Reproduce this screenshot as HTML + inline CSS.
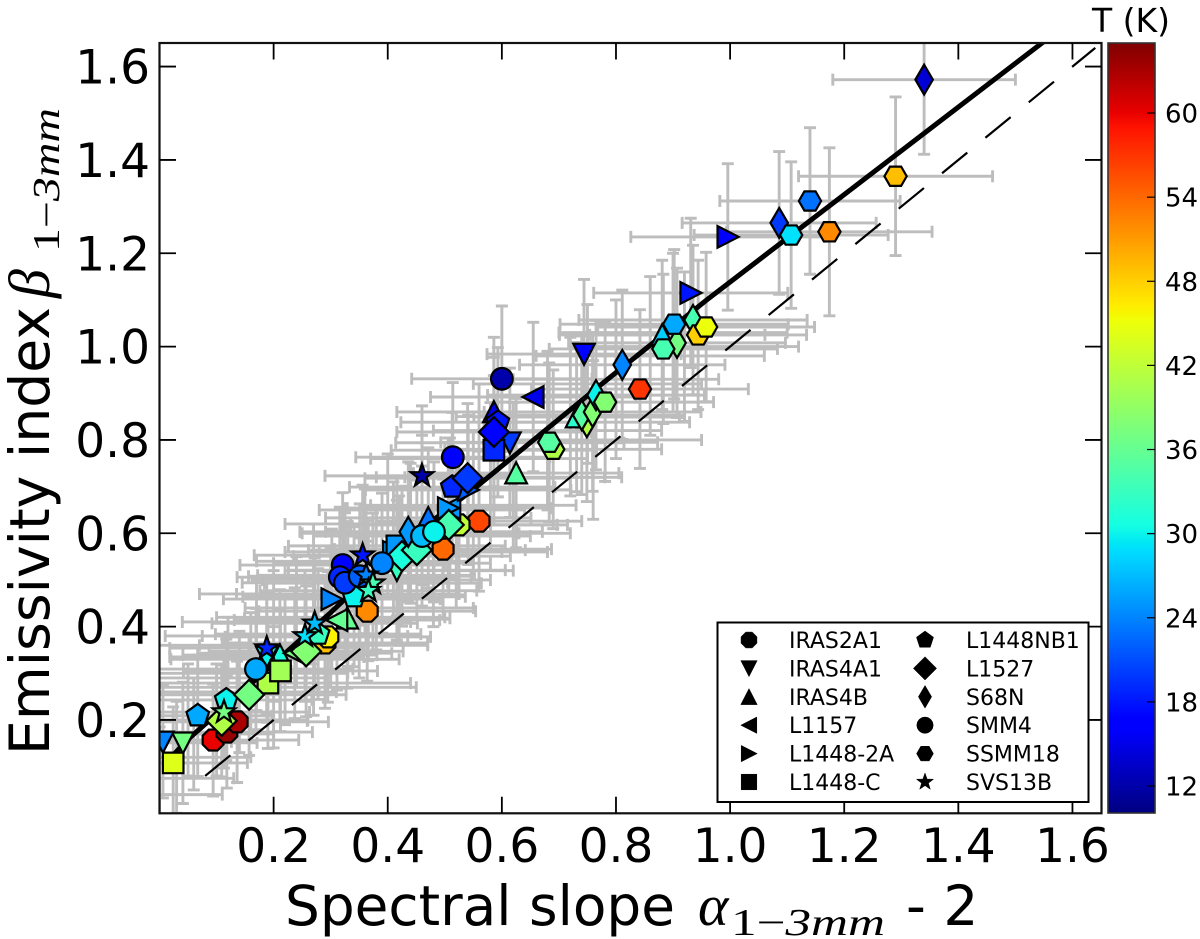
<!DOCTYPE html>
<html>
<head>
<meta charset="utf-8">
<title>Emissivity index vs spectral slope</title>
<style>
html,body{margin:0;padding:0;background:#fff;}
svg{display:block;}
text{font-family:"DejaVu Sans","Liberation Sans",sans-serif;fill:#000;}
.math{font-family:"Liberation Serif","DejaVu Serif",serif;font-style:italic;}
.up{font-style:normal;}
</style>
</head>
<body>
<svg id="chart" xmlns="http://www.w3.org/2000/svg" width="1200" height="939" viewBox="0 0 1200 939">
<defs><clipPath id="plot-clip"><rect x="159.5" y="43" width="942" height="770.3"/></clipPath></defs>
<g id="errors" clip-path="url(#plot-clip)"></g>
<g id="lines" clip-path="url(#plot-clip)"></g>
<g id="points" clip-path="url(#plot-clip)"></g>
<g id="axes"></g>
<g id="legend"></g>
<g id="colorbar"></g>
<text x="285" y="925" font-size="55" textLength="390" lengthAdjust="spacingAndGlyphs">Spectral slope</text>
<text class="math" x="698" y="925" font-size="58">α</text>
<text class="math" x="731" y="935" font-size="38" textLength="154" lengthAdjust="spacingAndGlyphs"><tspan class="up">1−</tspan>3mm</text>
<text x="906" y="925" font-size="55">- 2</text>
<text transform="rotate(-90 49 755)" x="49" y="755" font-size="55" textLength="448" lengthAdjust="spacingAndGlyphs">Emissivity index</text>
<text class="math" transform="rotate(-90 49 298)" x="49" y="298" font-size="58">β</text>
<text class="math" transform="rotate(-90 59 252)" x="59" y="252" font-size="38" textLength="144" lengthAdjust="spacingAndGlyphs"><tspan class="up">1−</tspan>3mm</text>
<text x="1092" y="32" font-size="33">T (K)</text>
</svg>
<script>
// Tick labels
const xTicks = [0.2, 0.4, 0.6, 0.8, 1.0, 1.2, 1.4, 1.6];
const yTicks = [0.2, 0.4, 0.6, 0.8, 1.0, 1.2, 1.4, 1.6];
const tempTicks = [12, 18, 24, 30, 36, 42, 48, 54, 60];

// Fitted curve and one-to-one reference
const fitAlpha = [0.02, 0.054, 0.134, 0.3, 0.434, 0.556, 0.766, 0.959, 1.546, 1.58];
const fitBeta = [0.12, 0.163, 0.249, 0.43, 0.585, 0.70, 0.911, 1.10, 1.65, 1.68];
const refAlpha = [0.08, 1.64];
const refBeta = [0.08, 1.64];

// Rows: alpha, beta, temperature, alpha error, beta error
const iras2a1 = [[0.094,0.157,60,0.15,0.12],[0.118,0.174,64,0.15,0.12],[0.136,0.196,63,0.16,0.13],[0.364,0.433,52,0.19,0.15],[0.290,0.365,49,0.18,0.14],[0.295,0.378,46,0.18,0.14],[0.497,0.566,54,0.19,0.15],[0.56,0.626,56,0.18,0.15],[0.525,0.618,42,0.19,0.15]];
const iras4a1 = [[0.744,0.984,17,0.17,0.16],[0.614,0.794,20,0.2,0.16],[0.041,0.151,37,0.13,0.13],[0.188,0.335,30,0.17,0.14],[0.416,0.521,33,0.19,0.15],[0.006,0.153,24,0.12,0.12]];
const iras4b = [[0.625,0.729,35,0.18,0.16],[0.881,1.025,28,0.18,0.16],[0.731,0.849,32,0.18,0.16],[0.586,0.860,15,0.17,0.16],[0.471,0.633,23,0.18,0.15],[0.211,0.339,31,0.17,0.14],[0.329,0.418,36,0.18,0.15]];
const l1157 = [[0.655,0.892,15,0.18,0.16],[0.237,0.343,37,0.17,0.14],[0.311,0.414,36,0.18,0.15],[0.509,0.654,25,0.18,0.15]];
const l14482a = [[0.996,1.235,16,0.17,0.157],[0.931,1.115,18,0.17,0.16],[0.541,0.693,22,0.18,0.16],[0.302,0.459,24,0.19,0.15],[0.506,0.654,25,0.18,0.15],[0.41,0.56,26,0.19,0.15]];
const l1448c = [[0.024,0.108,44,0.13,0.12],[0.19,0.279,41,0.25,0.14],[0.212,0.305,40,0.17,0.13],[0.586,0.778,19,0.18,0.16],[0.416,0.573,25,0.19,0.15]];
const l1448nb1 = [[0.067,0.209,26,0.13,0.13],[0.117,0.243,30,0.15,0.13],[0.341,0.464,30,0.195,0.15],[0.513,0.699,19,0.18,0.16],[0.593,0.838,18,0.17,0.16],[0.278,0.384,33,0.18,0.14]];
const l1527 = [[0.157,0.254,37,0.17,0.13],[0.109,0.198,41,0.15,0.12],[0.257,0.347,38,0.17,0.14],[0.425,0.551,31,0.19,0.15],[0.451,0.564,33,0.19,0.15],[0.507,0.618,34,0.19,0.15],[0.586,0.817,17,0.17,0.16],[0.540,0.718,20,0.18,0.16]];
const s68n = [[1.34,1.572,14,0.16,0.16],[1.086,1.265,20,0.17,0.153],[0.811,0.961,24,0.18,0.16],[0.907,1.008,37,0.19,0.16],[0.935,1.057,34,0.2,0.16],[0.749,0.838,41,0.18,0.17],[0.74,0.853,35,0.18,0.17],[0.759,0.86,38,0.19,0.17],[0.765,0.896,30,0.19,0.16],[0.436,0.603,25,0.19,0.15]];
const smm4 = [[0.600,0.931,12,0.158,0.156],[0.514,0.763,16,0.17,0.16],[0.321,0.532,17,0.18,0.155],[0.316,0.506,19,0.18,0.15],[0.325,0.494,20,0.18,0.15],[0.351,0.508,22,0.195,0.155],[0.390,0.536,24,0.19,0.15],[0.169,0.309,26,0.17,0.13],[0.46,0.594,27,0.19,0.15],[0.481,0.603,30,0.19,0.15]];
const ssmm18 = [[1.29,1.365,49,0.17,0.17],[1.14,1.312,23,0.158,0.157],[1.107,1.239,29,0.17,0.157],[1.174,1.246,52,0.18,0.18],[0.842,0.909,57,0.19,0.17],[0.902,1.048,26,0.2,0.16],[0.883,0.995,34,0.2,0.16],[0.944,1.025,48,0.19,0.16],[0.958,1.042,45,0.19,0.16],[0.781,0.881,38,0.19,0.17],[0.69,0.78,41,0.19,0.17],[0.683,0.795,35,0.19,0.17]];
const svs13b = [[0.46,0.723,12,0.17,0.15],[0.188,0.354,19,0.17,0.14],[0.255,0.38,29,0.18,0.14],[0.272,0.407,27,0.18,0.14],[0.113,0.217,37,0.15,0.12],[0.356,0.553,18,0.19,0.15],[0.362,0.51,24,0.19,0.15],[0.374,0.493,34,0.19,0.15],[0.366,0.477,33,0.19,0.15]];

// Error bars whose markers are concealed behind others or clipped by the axis: alpha, beta, alpha error, beta error
const concealedBars = [[-0.03,0.04,0.14,0.1],[0.0,0.075,0.13,0.11],[0.03,0.12,0.13,0.12],[0.06,0.17,0.14,0.12],[0.05,0.2,0.15,0.12],[0.1,0.2,0.16,0.12],[0.14,0.26,0.17,0.13],[0.12,0.29,0.17,0.13],[0.16,0.3,0.17,0.13],[0.2,0.27,0.25,0.13],[0.17,0.36,0.18,0.14],[0.2,0.38,0.19,0.14],[0.24,0.41,0.2,0.14],[0.22,0.33,0.2,0.14],[0.27,0.36,0.2,0.15],[0.3,0.42,0.2,0.15],[0.27,0.47,0.2,0.15],[0.33,0.47,0.195,0.155],[0.35,0.44,0.2,0.15],[0.38,0.5,0.2,0.15],[0.36,0.54,0.19,0.155],[0.42,0.52,0.2,0.16],[0.44,0.6,0.19,0.15],[0.4,0.62,0.18,0.15],[0.48,0.56,0.2,0.16],[0.46,0.65,0.18,0.16],[0.52,0.6,0.2,0.16],[0.55,0.66,0.18,0.16],[0.58,0.72,0.2,0.16],[0.56,0.76,0.19,0.16],[0.62,0.72,0.19,0.16],[0.68,0.82,0.2,0.17],[0.72,0.85,0.2,0.17],[0.76,0.8,0.19,0.17],[0.75,0.92,0.2,0.17],[0.8,0.93,0.18,0.17],[0.86,0.98,0.2,0.17],[0.9,1.03,0.2,0.17],[0.92,1.0,0.2,0.16]];

const seriesNames = ["IRAS2A1","IRAS4A1","IRAS4B","L1157","L1448-2A","L1448-C","L1448NB1","L1527","S68N","SMM4","SSMM18","SVS13B"];
const seriesShapes = ["octagon","down","up","left","right","square","pentagon","diamond","thin","circle","hexagon","star"];
const seriesRows = [iras2a1,iras4a1,iras4b,l1157,l14482a,l1448c,l1448nb1,l1527,s68n,smm4,ssmm18,svs13b];

const NS = "http://www.w3.org/2000/svg";
const X0 = 159.5, X1 = 1101.5, Y0 = 813.3, Y1 = 43;
function xScale(v){ return X0 + (v - 0) * 570.6; }
function yScale(v){ return Y0 - (v - 0) * 466.7; }
function tScale(t){ return 786 - (t - 12) * 14.02; }
function clampUnit(v){ return Math.max(0, Math.min(1, v)); }
function jet(t){
  const u = (t - 10) / 55;
  const r = u < 0.89 ? clampUnit((u - 0.35) / 0.31) : 1 - (u - 0.89) / 0.11 * 0.5;
  const g = u < 0.64 ? clampUnit((u - 0.125) / 0.25) : clampUnit(1 - (u - 0.64) / 0.27);
  const b = u < 0.11 ? 0.5 + u / 0.11 * 0.5 : clampUnit(1 - (u - 0.34) / 0.31);
  return "rgb(" + Math.round(r*255) + "," + Math.round(g*255) + "," + Math.round(b*255) + ")";
}
function make(tag, parent, attrs){
  const el = document.createElementNS(NS, tag);
  for (const k in attrs) el.setAttribute(k, attrs[k]);
  parent.appendChild(el);
  return el;
}
function poly(pts){ return pts.map(function(p){ return p[0].toFixed(2) + "," + p[1].toFixed(2); }).join(" "); }
function ring(n, r, start){
  const out = [];
  for (let i = 0; i < n; i++){
    const a = start + i * 2 * Math.PI / n;
    out.push([r * Math.cos(a), r * Math.sin(a)]);
  }
  return out;
}
function starPts(R, r){
  const out = [];
  for (let i = 0; i < 10; i++){
    const a = -Math.PI / 2 + i * Math.PI / 5;
    const m = i % 2 ? r : R;
    out.push([m * Math.cos(a), m * Math.sin(a)]);
  }
  return out;
}
function shapeEl(parent, shape, cx, cy, s, fill, sw){
  const attrs = {fill: fill, stroke: "#000", "stroke-width": sw, "stroke-linejoin": "miter"};
  if (shape === "circle"){
    attrs.cx = cx; attrs.cy = cy; attrs.r = 10.5 * s;
    return make("circle", parent, attrs);
  }
  let pts;
  if (shape === "octagon") pts = ring(8, 11 * s, Math.PI / 8);
  if (shape === "down") pts = [[-10.5*s,-10*s],[10.5*s,-10*s],[0,10.5*s]];
  if (shape === "up") pts = [[-10.5*s,10*s],[10.5*s,10*s],[0,-10.5*s]];
  if (shape === "left") pts = [[10*s,-10.5*s],[10*s,10.5*s],[-10.5*s,0]];
  if (shape === "right") pts = [[-10*s,-10.5*s],[-10*s,10.5*s],[10.5*s,0]];
  if (shape === "square") pts = [[-10*s,-10*s],[10*s,-10*s],[10*s,10*s],[-10*s,10*s]];
  if (shape === "pentagon") pts = ring(5, 11.5 * s, -Math.PI / 2);
  if (shape === "diamond") pts = [[0,-14.5*s],[14.5*s,0],[0,14.5*s],[-14.5*s,0]];
  if (shape === "thin") pts = [[0,-14.5*s],[8.5*s,0],[0,14.5*s],[-8.5*s,0]];
  if (shape === "hexagon") pts = ring(6, 10.8 * s, 0);
  if (shape === "star") pts = starPts(11.5 * s, 4.6 * s);
  attrs.points = poly(pts.map(function(p){ return [p[0] + cx, p[1] + cy]; }));
  return make("polygon", parent, attrs);
}

const errG = document.getElementById("errors");
const lineG = document.getElementById("lines");
const pointG = document.getElementById("points");
const axesG = document.getElementById("axes");
const legendG = document.getElementById("legend");
const cbarG = document.getElementById("colorbar");

function drawErrorBar(a, b, ea, eb){
  const x = xScale(a), y = yScale(b);
  const xa = xScale(a - ea), xb = xScale(a + ea);
  const ya = yScale(b - eb), yb = yScale(b + eb);
  const path = "M" + xa + " " + y + "H" + xb +
    "M" + x + " " + ya + "V" + yb +
    "M" + xa + " " + (y-6) + "V" + (y+6) + "M" + xb + " " + (y-6) + "V" + (y+6) +
    "M" + (x-6) + " " + ya + "H" + (x+6) + "M" + (x-6) + " " + yb + "H" + (x+6);
  const el = make("path", errG, {d: path, fill: "none", stroke: "#bdbdbd", "stroke-width": 2.9});
  
  
}
concealedBars.forEach(function(row){
  drawErrorBar(row[0], row[1], row[2], row[3]);
});
seriesRows.forEach(function(rows){
  rows.forEach(function(row){
    drawErrorBar(row[0], row[1], row[3], row[4]);
  });
});

// One-to-one dashed line and fit curve
const refLine = make("polyline", lineG, {points: poly(refAlpha.map(function(a, i){ return [xScale(a), yScale(refBeta[i])]; })), fill: "none", stroke: "#000", "stroke-width": 2.2, "stroke-dasharray": "32.6 23.4"});


const fitLine = make("polyline", lineG, {points: poly(fitAlpha.map(function(a, i){ return [xScale(a), yScale(fitBeta[i])]; })), fill: "none", stroke: "#000", "stroke-width": 5, "stroke-linejoin": "round"});



// Markers
seriesRows.forEach(function(rows, si){
  rows.forEach(function(row){
    const el = shapeEl(pointG, seriesShapes[si], xScale(row[0]), yScale(row[1]), 1.03, jet(row[2]), 2.2);
    
    
  });
});

// Axes
const frame = make("rect", axesG, {x: X0, y: Y1, width: X1 - X0, height: Y0 - Y1, fill: "none", stroke: "#111", "stroke-width": 2.2});


xTicks.forEach(function(v){
  const x = xScale(v);
  const t = make("path", axesG, {d: "M" + x + " " + Y0 + "v-16.5M" + x + " " + Y1 + "v16.5", stroke: "#000", "stroke-width": 1.8, fill: "none"});
  
  
  const l = make("text", axesG, {x: x, y: 862, "font-size": 47, "text-anchor": "middle"});
  l.textContent = v.toFixed(1);
  
  
});
yTicks.forEach(function(v){
  const y = yScale(v);
  const t = make("path", axesG, {d: "M" + X0 + " " + y + "h16.5M" + X1 + " " + y + "h-16.5", stroke: "#000", "stroke-width": 1.8, fill: "none"});
  
  
  const l = make("text", axesG, {x: 150, y: y + 17, "font-size": 47, "text-anchor": "end"});
  l.textContent = v.toFixed(1);
  
  
});

// Legend
const legendBox = make("rect", legendG, {x: 717.5, y: 622.5, width: 371, height: 179.5, fill: "#fff", stroke: "#000", "stroke-width": 2});


seriesNames.forEach(function(name, i){
  const col = i < 6 ? 0 : 1;
  const rowIdx = i % 6;
  const cy = 640 + rowIdx * 28.4;
  const mk = shapeEl(legendG, seriesShapes[i], col ? 925 : 749, cy, seriesShapes[i] === "diamond" ? 0.8 : 0.78, "#000", 0.5);
  
  
  const tx = make("text", legendG, {x: col ? 966 : 789, y: cy + 8, "font-size": 22});
  tx.textContent = name;
  
  
});

// Colorbar
for (let py = 43; py < 813; py++){
  const temp = 12 + (786 - (py + 0.5)) / 14.02;
  const strip = make("rect", cbarG, {x: 1108, y: py, width: 47, height: 1.2, fill: jet(temp)});
  
  
}
const cbarFrame = make("rect", cbarG, {x: 1108, y: 43, width: 47, height: 770, fill: "none", stroke: "#333", "stroke-width": 1.6});


tempTicks.forEach(function(t){
  const y = tScale(t);
  const tk = make("path", cbarG, {d: "M1155 " + y + "h-8", stroke: "#000", "stroke-width": 1.2, fill: "none"});
  
  
  const lb = make("text", cbarG, {x: 1165, y: y + 9.5, "font-size": 26});
  lb.textContent = String(t);
  
  
});
</script>
</body>
</html>
